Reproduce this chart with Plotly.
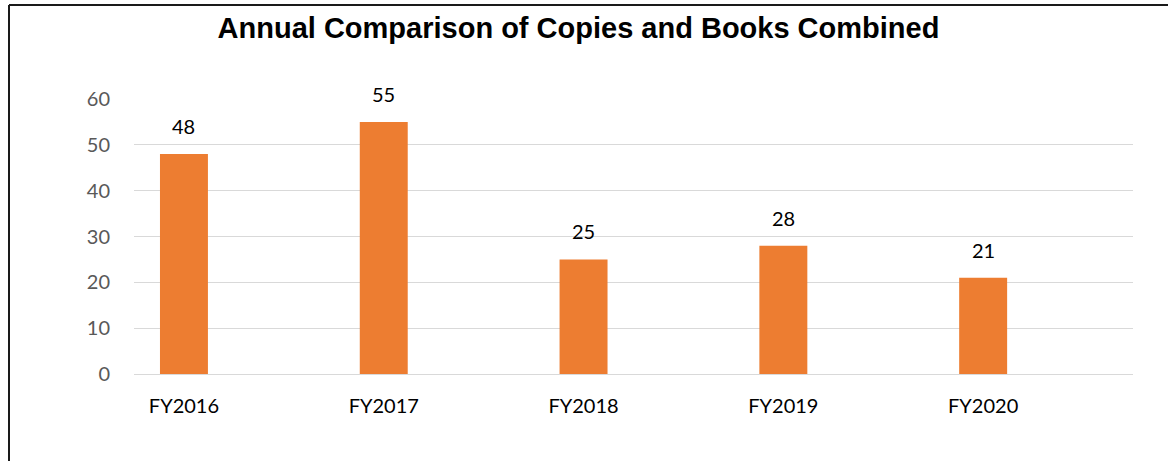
import plotly.graph_objects as go

categories = ["FY2016", "FY2017", "FY2018", "FY2019", "FY2020"]
values = [48, 55, 25, 28, 21]
y_ticks = [0, 10, 20, 30, 40, 50, 60]

W, H = 1168, 461
L, R, T, B = 134, 35, 99, 87
pw = W - L - R
ph = H - T - B

fig = go.Figure()
fig.add_trace(go.Bar(
    x=categories, y=values, width=0.24,
    marker=dict(color="#ED7D31", line=dict(width=0)),
    hoverinfo="x+y",
))

for c, v in zip(categories, values):
    fig.add_annotation(x=c, y=v, text=str(v), showarrow=False,
                       xref="x", yref="y", yanchor="bottom", yshift=14,
                       font=dict(family="Lato", size=20, color="#000000"))

def px_to_paper_x(px):
    return (px - L) / pw

def py_to_paper_y(py):
    return (H - B - py) / ph

fig.add_shape(type="line", xref="paper", yref="paper",
              x0=px_to_paper_x(9), x1=px_to_paper_x(9),
              y0=py_to_paper_y(5), y1=py_to_paper_y(480),
              line=dict(color="#1a1a1a", width=2))
fig.add_shape(type="line", xref="paper", yref="paper",
              x0=px_to_paper_x(9), x1=px_to_paper_x(1200),
              y0=py_to_paper_y(5), y1=py_to_paper_y(5),
              line=dict(color="#1a1a1a", width=2))

fig.update_layout(
    width=W, height=H,
    margin=dict(l=L, r=R, t=T, b=B, autoexpand=False),
    paper_bgcolor="white", plot_bgcolor="white",
    showlegend=False,
    title=dict(text="<b>Annual Comparison of Copies and Books Combined</b>",
               x=578.5 / W, xref="container", xanchor="center",
               y=1 - 28 / H, yref="container", yanchor="middle",
               font=dict(family="Liberation Sans", size=29, color="#000000")),
    xaxis=dict(type="category", range=[-0.25, 4.75], showgrid=False,
               showline=False, zeroline=False, ticks="", ticklabelstandoff=18,
               tickfont=dict(family="Lato", size=20, color="#000000"),
               fixedrange=True),
    yaxis=dict(range=[0, 60], tickvals=y_ticks, showgrid=True,
               gridcolor="#d9d9d9", gridwidth=1, zeroline=True,
               zerolinecolor="#d9d9d9", zerolinewidth=1, showline=False,
               ticks="", ticklabelstandoff=23,
               tickfont=dict(family="Lato", size=20, color="#595959"),
               fixedrange=True),
)

fig.write_html("out.html", config={"displayModeBar": False},
               post_script="document.body.style.margin='0';document.body.style.overflow='hidden';")
